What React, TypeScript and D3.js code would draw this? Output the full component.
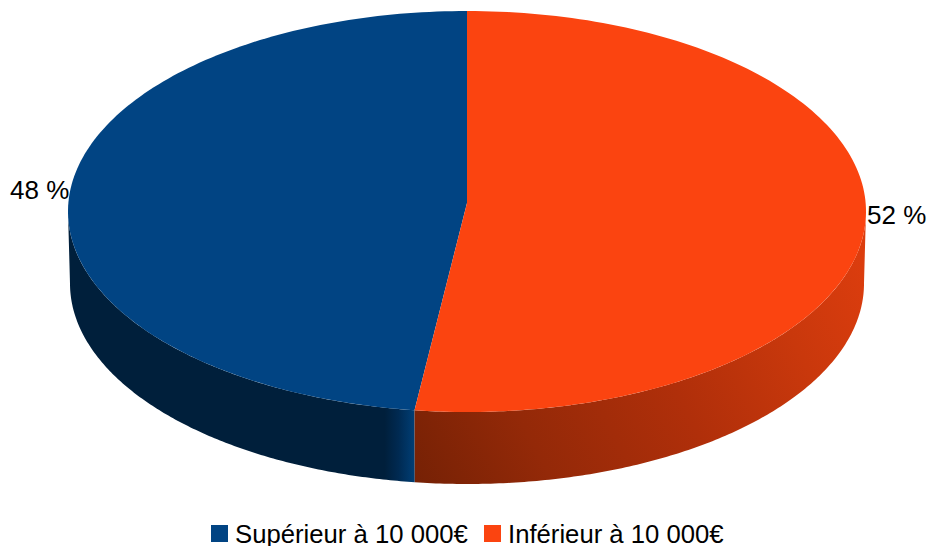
import React from "react";
import * as d3 from "d3";

const categories = ["Supérieur à 10 000€", "Inférieur à 10 000€"];
const values = [47.9, 52.1];
const percentLabels = ["48 %", "52 %"];
const colors = ["#014483", "#fb4410"];

const W = 928, H = 546;
const cx = 467, cy = 211.5, rx = 399, ry = 200.5, apexY = 203, depth = 72, bottomRx = 397;

// d3.pie in clockwise order starting at 12 o'clock: orange first, blue second
const pie = d3.pie<number>().sort(null);
const arcs = pie([values[1], values[0]]);

const px = (a: number, r = rx) => cx + r * Math.sin(a);
const py = (a: number) => cy - ry * Math.cos(a);
const line = d3.line<[number, number]>();

function rim(a0: number, a1: number, r = rx, dy = 0): [number, number][] {
  return d3.range(0, 161).map((i) => {
    const a = a0 + ((a1 - a0) * i) / 160;
    return [px(a, r), py(a) + dy] as [number, number];
  });
}
function top(a0: number, a1: number) {
  return line([[cx, apexY], ...rim(a0, a1)]) + "Z";
}
function side(a0: number, a1: number) {
  return line([...rim(a0, a1), ...rim(a0, a1, bottomRx, depth).reverse()]) + "Z";
}

export default function App() {
  const orange = arcs[0], blue = arcs[1];
  return (
    <svg width={W} height={H} style={{ position: "absolute", left: 0, top: 0, background: "#fff" }}
      fontFamily="'Liberation Sans', sans-serif">
      <defs>
        <linearGradient id="sideBlue" gradientUnits="userSpaceOnUse" x1={68} x2={416} y1={0} y2={0}>
          <stop offset="0" stopColor="#001f3b" />
          <stop offset="0.91" stopColor="#001f3b" />
          <stop offset="0.95" stopColor="#002a52" />
          <stop offset="1" stopColor="#014078" />
        </linearGradient>
        <linearGradient id="sideOrange" gradientUnits="userSpaceOnUse" x1={415} y1={490} x2={866} y2={260}>
          <stop offset="0" stopColor="#752105" />
          <stop offset="0.25" stopColor="#942908" />
          <stop offset="0.55" stopColor="#b02f0a" />
          <stop offset="0.8" stopColor="#c9380c" />
          <stop offset="1" stopColor="#dc3d0e" />
        </linearGradient>
      </defs>
      <path d={side(Math.PI * 1.5, blue.startAngle)} fill="url(#sideBlue)" />
      <path d={side(blue.startAngle, Math.PI / 2)} fill="url(#sideOrange)" />
      <path d={top(blue.startAngle, blue.endAngle)} fill={colors[0]} />
      <path d={top(orange.startAngle, orange.endAngle)} fill={colors[1]} />
      <text x={10} y={199} fontSize={26} fill="#000">{percentLabels[0]}</text>
      <text x={867} y={224} fontSize={26} fill="#000">{percentLabels[1]}</text>
      <rect x={211} y={525} width={17} height={17} fill={colors[0]} />
      <text x={235} y={542.5} fontSize={25.7} fill="#000">{categories[0]}</text>
      <rect x={484} y={525} width={17} height={17} fill={colors[1]} />
      <text x={508} y={542.5} fontSize={25.7} fill="#000">{categories[1]}</text>
    </svg>
  );
}
